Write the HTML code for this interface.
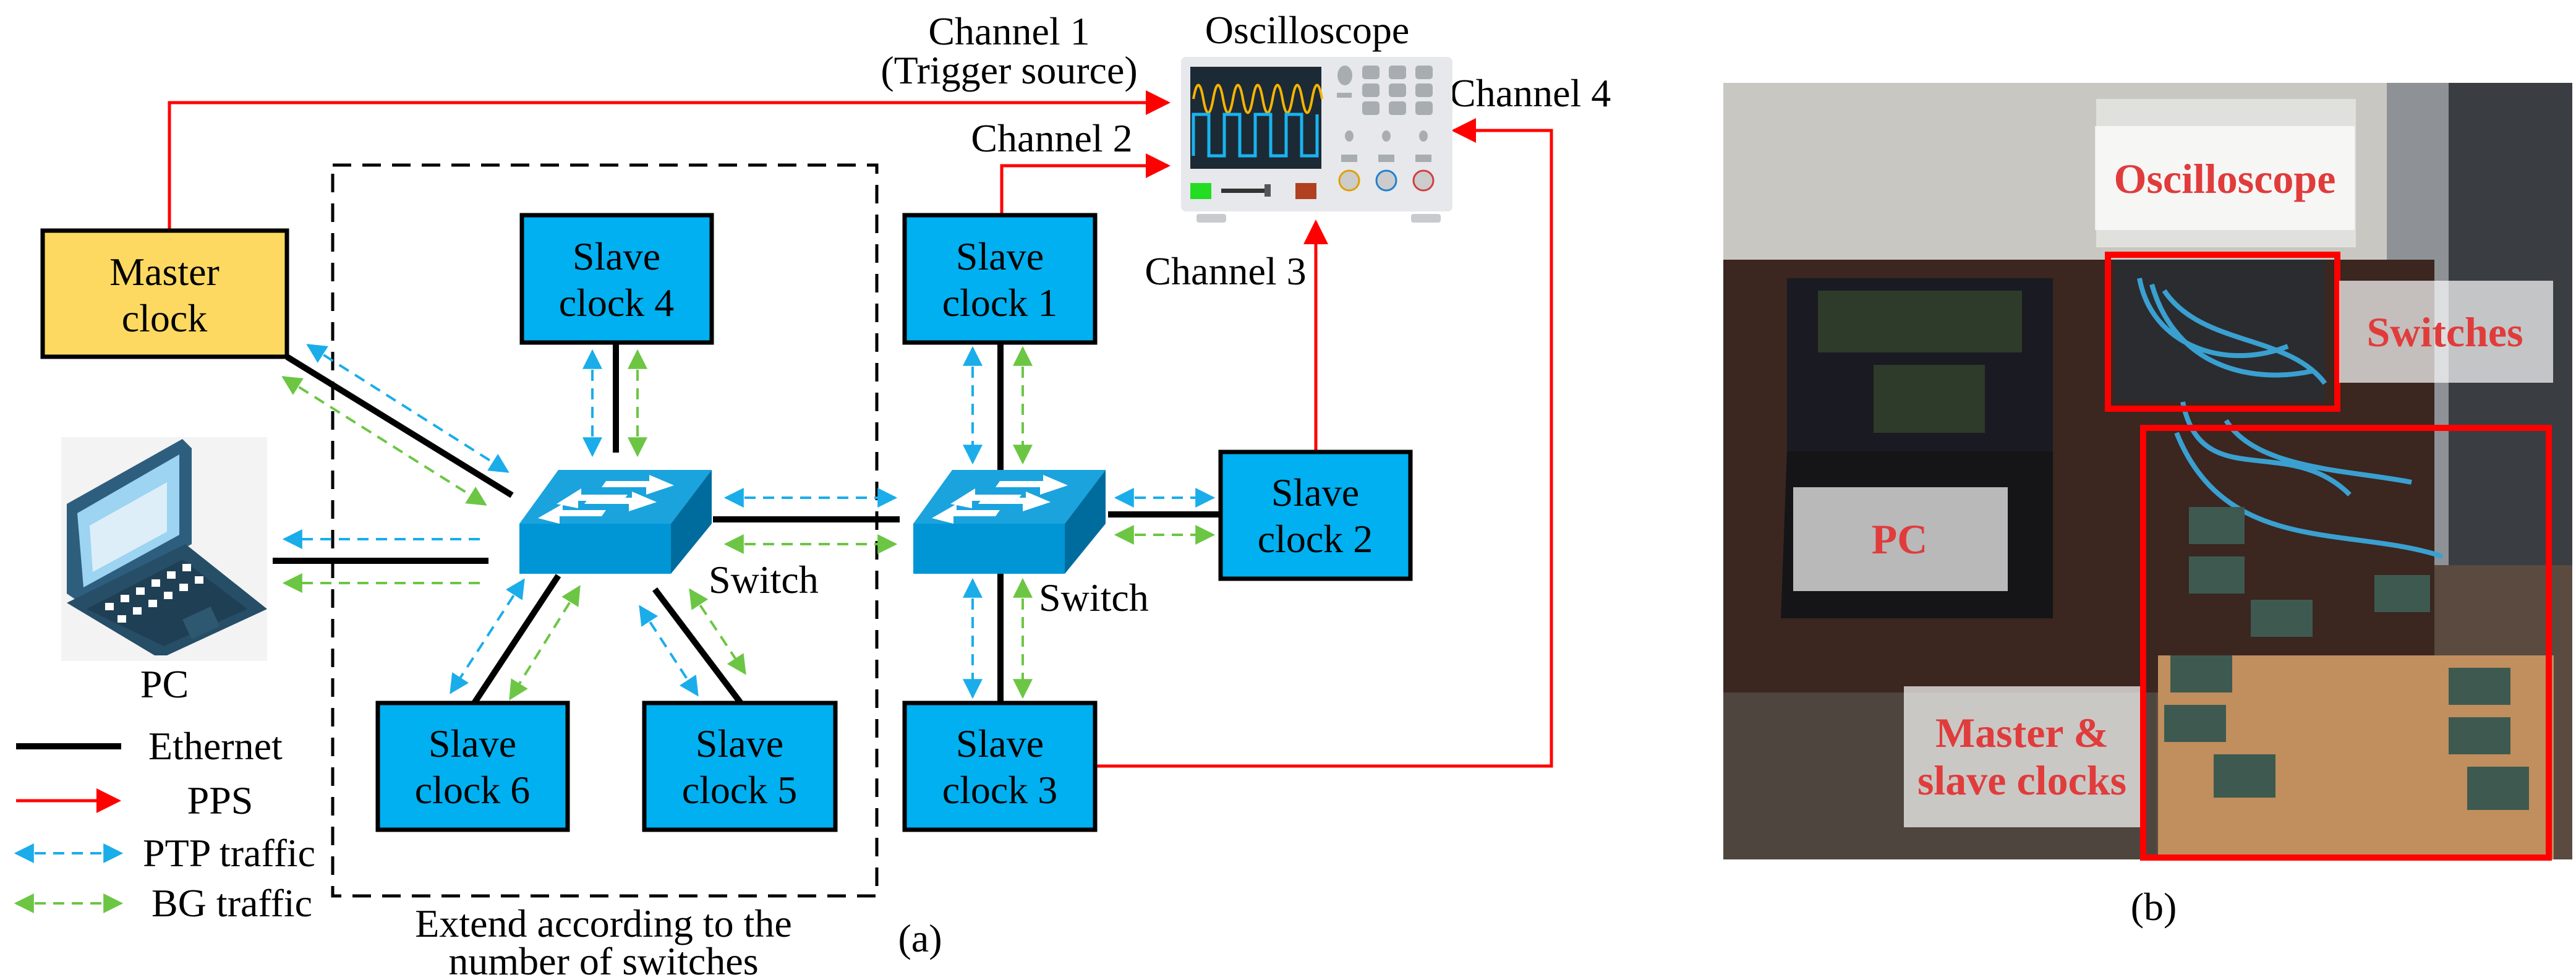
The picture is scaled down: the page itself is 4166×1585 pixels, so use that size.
<!DOCTYPE html>
<html><head><meta charset="utf-8">
<style>
html,body{margin:0;padding:0;background:#fff;}
svg{display:block;}
svg text{font-family:"Liberation Serif","DejaVu Serif","Times New Roman",serif !important;}
</style></head><body>
<svg width="4166" height="1585" viewBox="0 0 4166 1585" xmlns="http://www.w3.org/2000/svg" font-family="'Liberation Serif', 'DejaVu Serif', serif">
<defs>
<marker id="ab" viewBox="0 0 10 10" refX="9" refY="5" markerWidth="32" markerHeight="34" markerUnits="userSpaceOnUse" orient="auto-start-reverse"><path d="M0,0 L10,5 L0,10 z" fill="#1AADEA"/></marker>
<marker id="ag" viewBox="0 0 10 10" refX="9" refY="5" markerWidth="32" markerHeight="34" markerUnits="userSpaceOnUse" orient="auto-start-reverse"><path d="M0,0 L10,5 L0,10 z" fill="#6CC644"/></marker>
<marker id="ar" viewBox="0 0 10 10" refX="9" refY="5" markerWidth="40" markerHeight="46" markerUnits="userSpaceOnUse" orient="auto"><path d="M0,0 L10,5 L0,10 z" fill="#F00"/></marker>
<g id="sw">
<polygon points="63,0 311,0 245,87 0,87" fill="#1BA3DD"/>
<polygon points="0,87 245,87 245,168 0,168" fill="#0096D6"/>
<polygon points="245,87 311,0 311,87 245,168" fill="#006C9E"/>
<g fill="#fff">
<polygon points="60,55 100,30 100,40 175,40 168,50 95,50 95,62"/>
<polygon points="250,25 210,8 210,18 140,18 133,28 205,28 205,40"/>
<polygon points="30,78 70,55 70,65 140,65 133,75 65,75 65,87"/>
<polygon points="222,52 182,35 182,45 112,45 105,55 177,55 177,67"/>
</g>
</g>
</defs>

<rect x="538" y="267" width="880" height="1182" fill="none" stroke="#000" stroke-width="5" stroke-dasharray="30 18"/>

<g stroke="#F00" stroke-width="5" fill="none">
<polyline points="274,373 274,166 1889,166" marker-end="url(#ar)"/>
<polyline points="1620,348 1620,268 1889,268" marker-end="url(#ar)"/>
<polyline points="2128,731 2128,359" marker-end="url(#ar)"/>
<polyline points="1771,1239 2509,1239 2509,211 2351,211" marker-end="url(#ar)"/>
</g>

<g stroke="#000" stroke-width="10" fill="none">
<line x1="464" y1="577" x2="828" y2="801"/>
<line x1="996" y1="554" x2="996" y2="732"/>
<line x1="441" y1="907" x2="790" y2="907"/>
<line x1="1153" y1="840" x2="1455" y2="840"/>
<line x1="1618" y1="554" x2="1618" y2="760"/>
<line x1="1792" y1="832" x2="1974" y2="832"/>
<line x1="1618" y1="928" x2="1618" y2="1137"/>
<line x1="903" y1="931" x2="767" y2="1137"/>
<line x1="1059" y1="953" x2="1198" y2="1137"/>
</g>

<g stroke-width="4" stroke-dasharray="18 12" fill="none">
<g stroke="#1AADEA">
<line x1="498" y1="558" x2="821" y2="763" marker-start="url(#ab)" marker-end="url(#ab)"/>
<line x1="958" y1="568" x2="958" y2="736" marker-start="url(#ab)" marker-end="url(#ab)"/>
<line x1="776" y1="872" x2="460" y2="872" marker-end="url(#ab)"/>
<line x1="1174" y1="805" x2="1448" y2="805" marker-start="url(#ab)" marker-end="url(#ab)"/>
<line x1="1573" y1="563" x2="1573" y2="748" marker-start="url(#ab)" marker-end="url(#ab)"/>
<line x1="1805" y1="805" x2="1962" y2="805" marker-start="url(#ab)" marker-end="url(#ab)"/>
<line x1="1573" y1="938" x2="1573" y2="1127" marker-start="url(#ab)" marker-end="url(#ab)"/>
<line x1="847" y1="938" x2="729" y2="1120" marker-start="url(#ab)" marker-end="url(#ab)"/>
<line x1="1035" y1="981" x2="1128" y2="1124" marker-start="url(#ab)" marker-end="url(#ab)"/>
<line x1="26" y1="1380" x2="196" y2="1380" marker-start="url(#ab)" marker-end="url(#ab)"/>
</g>
<g stroke="#6CC644">
<line x1="458" y1="610" x2="785" y2="816" marker-start="url(#ag)" marker-end="url(#ag)"/>
<line x1="1031" y1="568" x2="1031" y2="736" marker-start="url(#ag)" marker-end="url(#ag)"/>
<line x1="776" y1="943" x2="460" y2="943" marker-end="url(#ag)"/>
<line x1="1174" y1="880" x2="1448" y2="880" marker-start="url(#ag)" marker-end="url(#ag)"/>
<line x1="1654" y1="563" x2="1654" y2="748" marker-start="url(#ag)" marker-end="url(#ag)"/>
<line x1="1805" y1="865" x2="1962" y2="865" marker-start="url(#ag)" marker-end="url(#ag)"/>
<line x1="1654" y1="938" x2="1654" y2="1127" marker-start="url(#ag)" marker-end="url(#ag)"/>
<line x1="937" y1="949" x2="825" y2="1130" marker-start="url(#ag)" marker-end="url(#ag)"/>
<line x1="1116" y1="954" x2="1205" y2="1089" marker-start="url(#ag)" marker-end="url(#ag)"/>
<line x1="26" y1="1461" x2="196" y2="1461" marker-start="url(#ag)" marker-end="url(#ag)"/>
</g>
</g>

<line x1="26" y1="1207" x2="196" y2="1207" stroke="#000" stroke-width="10"/>
<line x1="26" y1="1295" x2="192" y2="1295" stroke="#F00" stroke-width="5" marker-end="url(#ar)"/>
<g font-size="64" fill="#000">
<text x="240" y="1228">Ethernet</text>
<text x="356" y="1316" text-anchor="middle">PPS</text>
<text x="231" y="1401">PTP traffic</text>
<text x="245" y="1482">BG traffic</text>
</g>

<g stroke="#000" stroke-width="7">
<rect x="69" y="373" width="395" height="204" fill="#FDD961"/>
<rect x="844" y="348" width="307" height="206" fill="#00B0F0"/>
<rect x="1463" y="348" width="308" height="206" fill="#00B0F0"/>
<rect x="1974" y="731" width="307" height="205" fill="#00B0F0"/>
<rect x="611" y="1137" width="307" height="205" fill="#00B0F0"/>
<rect x="1042" y="1137" width="309" height="205" fill="#00B0F0"/>
<rect x="1463" y="1137" width="308" height="205" fill="#00B0F0"/>
</g>
<g font-size="64" fill="#000" text-anchor="middle">
<text x="266" y="461">Master</text><text x="266" y="536">clock</text>
<text x="997" y="436">Slave</text><text x="997" y="511">clock 4</text>
<text x="1617" y="436">Slave</text><text x="1617" y="511">clock 1</text>
<text x="2127" y="818">Slave</text><text x="2127" y="893">clock 2</text>
<text x="764" y="1224">Slave</text><text x="764" y="1299">clock 6</text>
<text x="1196" y="1224">Slave</text><text x="1196" y="1299">clock 5</text>
<text x="1617" y="1224">Slave</text><text x="1617" y="1299">clock 3</text>
<text x="1632" y="72">Channel 1</text>
<text x="1632" y="135">(Trigger source)</text>
<text x="2114" y="70">Oscilloscope</text>
<text x="1701" y="245">Channel 2</text>
<text x="1982" y="460">Channel 3</text>
<text x="266" y="1128">PC</text>
<text x="976" y="1515">Extend according to the</text>
<text x="976" y="1576">number of switches</text>
<text x="1488" y="1539">(a)</text>
<text x="3483" y="1488">(b)</text>
</g>
<g font-size="64" fill="#000">
<text x="2344" y="172">Channel 4</text>
<text x="1146" y="959">Switch</text>
<text x="1680" y="988">Switch</text>
</g>

<use href="#sw" x="840" y="760"/>
<use href="#sw" x="1477" y="760"/>

<g>
<rect x="1910" y="92" width="439" height="250" rx="8" fill="#E6E8EC"/>
<rect x="1935" y="346" width="48" height="14" rx="4" fill="#C8CACE"/>
<rect x="2282" y="346" width="48" height="14" rx="4" fill="#C8CACE"/>
<rect x="1925" y="108" width="212" height="165" fill="#1C2A36"/>
<path d="M1930,160 q8,-45 16,0 q8,45 16,0 q8,-45 16,0 q8,45 16,0 q8,-45 16,0 q8,45 16,0 q8,-45 16,0 q8,45 16,0 q8,-45 16,0 q8,45 16,0 q8,-45 16,0 q8,45 16,0 q8,-45 16,0" fill="none" stroke="#F5B400" stroke-width="4"/>
<path d="M1930,252 V185 H1955 V252 H1980 V185 H2005 V252 H2030 V185 H2055 V252 H2080 V185 H2105 V252 H2130 V185" fill="none" stroke="#18B4F0" stroke-width="5"/>
<rect x="1925" y="296" width="34" height="26" fill="#22DD22"/>
<rect x="1975" y="305" width="80" height="7" fill="#333"/>
<rect x="2045" y="298" width="10" height="20" fill="#555"/>
<rect x="2095" y="296" width="34" height="26" fill="#B04020"/>
<g fill="#A8ADB2">
<ellipse cx="2175" cy="122" rx="12" ry="16"/>
<rect x="2162" y="150" width="24" height="8"/>
<rect x="2203" y="106" width="28" height="22" rx="5"/><rect x="2246" y="106" width="28" height="22" rx="5"/><rect x="2289" y="106" width="28" height="22" rx="5"/>
<rect x="2203" y="135" width="28" height="22" rx="5"/><rect x="2246" y="135" width="28" height="22" rx="5"/><rect x="2289" y="135" width="28" height="22" rx="5"/>
<rect x="2203" y="164" width="28" height="22" rx="5"/><rect x="2246" y="164" width="28" height="22" rx="5"/><rect x="2289" y="164" width="28" height="22" rx="5"/>
<ellipse cx="2182" cy="220" rx="7" ry="9"/><ellipse cx="2242" cy="220" rx="7" ry="9"/><ellipse cx="2302" cy="220" rx="7" ry="9"/>
<rect x="2169" y="250" width="26" height="12"/><rect x="2229" y="250" width="26" height="12"/><rect x="2289" y="250" width="26" height="12"/>
</g>
<circle cx="2182" cy="292" r="16" fill="#CCC" stroke="#E0A000" stroke-width="3"/>
<circle cx="2242" cy="292" r="16" fill="#CCC" stroke="#2080D0" stroke-width="3"/>
<circle cx="2302" cy="292" r="16" fill="#CCC" stroke="#D04040" stroke-width="3"/>
</g>

<g>
<rect x="99" y="707" width="333" height="362" fill="#F3F3F3"/>
<polygon points="108,815 295,710 310,725 310,880 130,975 108,960" fill="#2E5E7E"/>
<polygon points="125,830 290,735 290,865 135,950" fill="#9CD4F2"/>
<polygon points="145,850 270,780 270,860 150,925" fill="#DDEEF8"/>
<polygon points="108,975 300,880 432,985 270,1060 250,1060" fill="#264E66"/>
<polygon points="140,985 295,905 400,985 265,1045" fill="#1F3F55"/>
<g fill="#fff">
<rect x="170" y="975" width="14" height="12"/><rect x="195" y="962" width="14" height="12"/><rect x="220" y="950" width="14" height="12"/><rect x="245" y="937" width="14" height="12"/><rect x="270" y="924" width="14" height="12"/><rect x="295" y="912" width="14" height="12"/>
<rect x="190" y="995" width="14" height="12"/><rect x="215" y="982" width="14" height="12"/><rect x="240" y="970" width="14" height="12"/><rect x="265" y="957" width="14" height="12"/><rect x="290" y="944" width="14" height="12"/><rect x="315" y="932" width="14" height="12"/>
</g>
<rect x="300" y="990" width="50" height="35" fill="#2E5870" transform="rotate(-25 325 1007)"/>
</g>

<g>
<rect x="2787" y="134" width="1373" height="1256" fill="#5A4A40"/>
<rect x="2787" y="134" width="1373" height="300" fill="#C9C7C2"/>
<rect x="3860" y="134" width="300" height="780" fill="#8E9296"/>
<rect x="3960" y="134" width="200" height="780" fill="#3A3D42"/>
<rect x="2787" y="420" width="1150" height="700" fill="#3B2620"/>
<rect x="2787" y="1120" width="700" height="270" fill="#4E463E"/>
<rect x="3490" y="1060" width="640" height="330" fill="#C18E5E"/>
<rect x="2890" y="450" width="430" height="280" fill="#1A1A22"/>
<rect x="2940" y="470" width="180" height="100" fill="#2E3A2A"/>
<rect x="3110" y="470" width="160" height="100" fill="#2E3A2A"/>
<rect x="3030" y="590" width="180" height="110" fill="#2E3A2A"/>
<polygon points="2890,730 3320,730 3320,1000 2880,1000" fill="#151518"/>
<rect x="3390" y="160" width="420" height="240" fill="#E0E0DC"/>
<rect x="3420" y="420" width="340" height="230" fill="#2A2C30"/>
<path d="M3460,450 C3480,560 3600,600 3700,560 M3480,460 C3520,600 3650,620 3740,600 M3500,470 C3560,560 3700,540 3760,620" stroke="#3AA0D0" stroke-width="8" fill="none"/>
<path d="M3530,650 C3560,800 3700,700 3800,800 M3600,680 C3650,760 3800,760 3900,780 M3520,700 C3600,900 3800,850 3950,900" stroke="#3AA0D0" stroke-width="8" fill="none"/>
<g fill="#3E5A50">
<rect x="3540" y="820" width="90" height="60"/><rect x="3540" y="900" width="90" height="60"/><rect x="3640" y="970" width="100" height="60"/><rect x="3840" y="930" width="90" height="60"/>
<rect x="3510" y="1060" width="100" height="60"/><rect x="3500" y="1140" width="100" height="60"/><rect x="3580" y="1220" width="100" height="70"/>
<rect x="3960" y="1080" width="100" height="60"/><rect x="3960" y="1160" width="100" height="60"/><rect x="3990" y="1240" width="100" height="70"/>
</g>
<g fill="none" stroke="#F00" stroke-width="10">
<rect x="3409" y="412" width="371" height="249"/>
<rect x="3466" y="692" width="656" height="695"/>
</g>
<g fill="#fff" fill-opacity="0.7">
<rect x="3388" y="204" width="420" height="168"/>
<rect x="3783" y="454" width="346" height="165"/>
<rect x="2900" y="788" width="347" height="168"/>
<rect x="3079" y="1110" width="382" height="228"/>
</g>
<g font-size="68" font-weight="bold" fill="#E03C3C" text-anchor="middle">
<text x="3598" y="312">Oscilloscope</text>
<text x="3954" y="560">Switches</text>
<text x="3072" y="895">PC</text>
<text x="3270" y="1208">Master &amp;</text>
<text x="3270" y="1285">slave clocks</text>
</g>
</g>
</svg>
</body></html>
